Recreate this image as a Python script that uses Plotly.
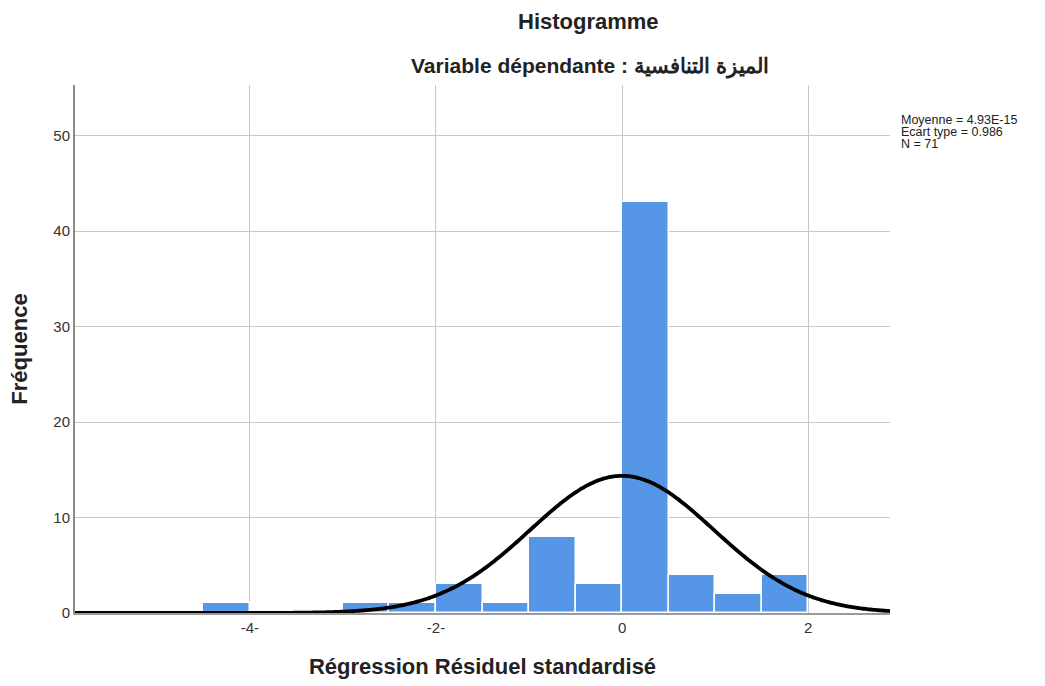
import numpy as np
import plotly.graph_objects as go

# Histogram data (bin left edges, width 0.5)
bin_starts = [-4.5, -3.0, -2.5, -2.0, -1.5, -1.0, -0.5, 0.0, 0.5, 1.0, 1.5]
counts = [1, 1, 1, 3, 1, 8, 3, 43, 4, 2, 4]
bin_width = 0.5

# Summary statistics shown on the chart
mean_val = 4.93e-15
sd_val = 0.986
n_val = 71

tick_vals = [-4, -2, 0, 2]
tick_text = ["-4-", "-2-", "0", "2"]
y_tick_vals = [0, 10, 20, 30, 40, 50]

x_range = [-5.88, 2.88]
y_range = [0, 55.3]

centers = [s + bin_width / 2 for s in bin_starts]

# Fitted normal curve (scaled to counts)
xs = np.linspace(x_range[0], x_range[1], 500)
ys = n_val * bin_width / (sd_val * np.sqrt(2 * np.pi)) * np.exp(-0.5 * ((xs - mean_val) / sd_val) ** 2)

fig = go.Figure()
fig.add_trace(go.Bar(
    x=centers, y=counts, width=bin_width,
    marker=dict(color="#5596E6", line=dict(color="white", width=1.5)),
    showlegend=False, hoverinfo="x+y",
))
fig.add_trace(go.Scatter(
    x=xs, y=ys, mode="lines",
    line=dict(color="black", width=3.8, simplify=False),
    showlegend=False, hoverinfo="skip",
))

font_family = "Liberation Sans, Arial, sans-serif"

L, R, T, B = 75, 890, 85, 613
PW, PH = R - L, B - T

def px(x):
    return (x - L) / PW

def py(y):
    return (B - y) / PH

legend_lines = [f"Moyenne = {mean_val:.2E}", f"Ecart type = {sd_val}", f"N = {n_val}"]
legend_ys = [120, 132, 144]

annotations = [
    dict(text="<b>Histogramme</b>", xref="paper", yref="paper",
         x=px(588), y=py(21), xanchor="center", yanchor="middle",
         showarrow=False, font=dict(size=22, color="#222222")),
    dict(text="<b>Variable dépendante : الميزة التنافسية</b>", xref="paper", yref="paper",
         x=px(590), y=py(66), xanchor="center", yanchor="middle",
         showarrow=False, font=dict(size=21, color="#222222")),
]
for txt, yy in zip(legend_lines, legend_ys):
    annotations.append(dict(text=txt, xref="paper", yref="paper", x=px(899), y=py(yy),
                            xanchor="left", yanchor="middle", showarrow=False,
                            font=dict(size=12.5, color="#222222")))

fig.update_layout(
    width=1045, height=686,
    margin=dict(l=L, r=1045 - R, t=T, b=686 - B),
    paper_bgcolor="white", plot_bgcolor="white",
    font=dict(family=font_family, color="#222222"),
    bargap=0,
    xaxis=dict(
        range=x_range, tickvals=tick_vals, ticktext=tick_text,
        showgrid=True, gridcolor="#c8c8c8", gridwidth=1,
        showline=True, linecolor="#9a9a9a", linewidth=1.5,
        zeroline=False, ticks="", tickfont=dict(size=15, color="#333333"),
        title=dict(text="<b>Régression Résiduel standardisé</b>",
                   font=dict(size=22, color="#222222"), standoff=24),
    ),
    yaxis=dict(
        range=y_range, tickvals=y_tick_vals,
        showgrid=True, gridcolor="#c8c8c8", gridwidth=1,
        showline=True, linecolor="#8a8a8a", linewidth=2,
        zeroline=False, ticks="", tickfont=dict(size=15, color="#333333"),
        title=dict(text="<b>Fréquence</b>", font=dict(size=22, color="#222222"), standoff=20),
    ),
    annotations=annotations,
)

fig.write_html("out.html")
